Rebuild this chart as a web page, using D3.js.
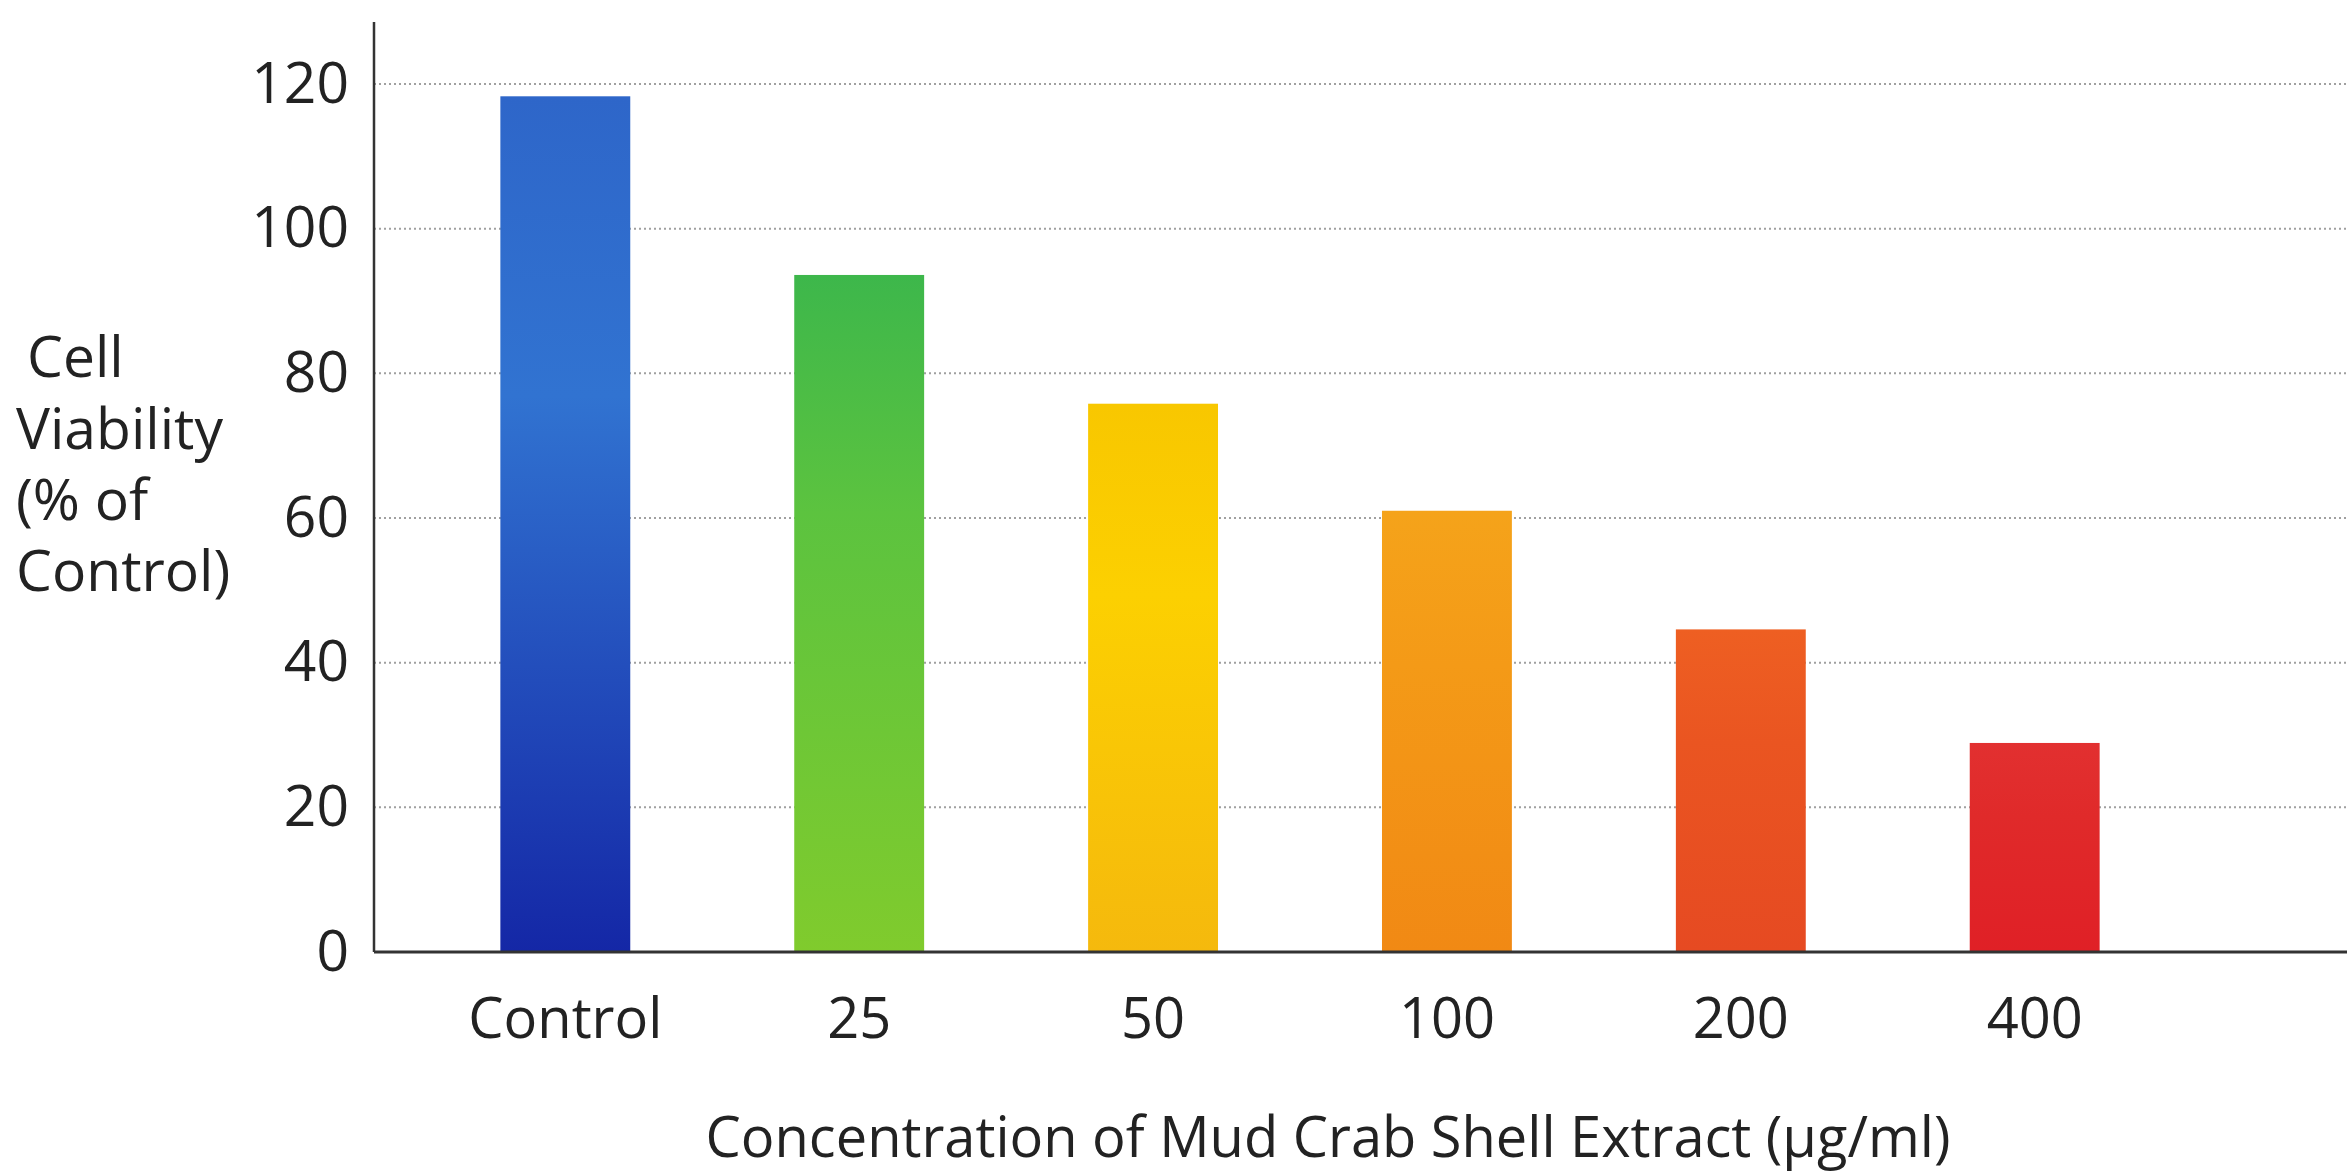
<!DOCTYPE html>
<html>
<head>
<meta charset="utf-8">
<script src="https://cdn.jsdelivr.net/npm/d3@7"></script>
<style>
  html, body { margin: 0; padding: 0; background: #fff; }
  svg { display: block; }
  text { font-family: "Open Sans", "Noto Sans", sans-serif; fill: #222; }
</style>
</head>
<body>
<svg id="chart" width="2347" height="1173"></svg>
<script>
// ---- data ----
const categories = ["Control", "25", "50", "100", "200", "400"];
const viability = [118.3, 93.6, 75.8, 61.0, 44.6, 28.9];
const yTicks = [0, 20, 40, 60, 80, 100, 120];
const yTitleLines = ["Cell", "Viability", "(% of", "Control)"];
const xTitle = "Concentration of Mud Crab Shell Extract (\u00b5g/ml)";
// gradient stops per bar: [top, middle, bottom]
const barColors = [
  ["#2e66c9", "#3173d1", "#1427a6"],
  ["#3db74b", "#5cc33f", "#80cb2d"],
  ["#f8c700", "#fcd001", "#f5b90d"],
  ["#f5a31a", "#f49a17", "#f18914"],
  ["#ee5f22", "#ea5521", "#e64a22"],
  ["#e23030", "#e02a2a", "#e02026"]
];

// ---- layout ----
const W = 2347, H = 1173;
const axisX = 374, axisTop = 22, baseY = 952;

const svg = d3.select("#chart");

const y = d3.scaleLinear().domain([0, 120]).range([baseY, 84]);
const x = d3.scaleBand()
  .domain(categories)
  .range([axisX, 2226])
  .paddingInner(0.558)
  .paddingOuter(0.43);

// gradients
const defs = svg.append("defs");
barColors.forEach((c, i) => {
  const g = defs.append("linearGradient")
    .attr("id", "grad" + i)
    .attr("x1", 0).attr("y1", 0).attr("x2", 0).attr("y2", 1);
  g.append("stop").attr("offset", "0%").attr("stop-color", c[0]);
  g.append("stop").attr("offset", "35%").attr("stop-color", c[1]);
  g.append("stop").attr("offset", "100%").attr("stop-color", c[2]);
});

// gridlines
svg.append("g")
  .selectAll("line")
  .data(yTicks.filter(d => d > 0))
  .join("line")
  .attr("x1", axisX).attr("x2", W)
  .attr("y1", d => y(d)).attr("y2", d => y(d))
  .attr("stroke", "#a0a0a0")
  .attr("stroke-width", 2)
  .attr("stroke-dasharray", "2,3");

// bars
svg.append("g")
  .selectAll("rect")
  .data(categories)
  .join("rect")
  .attr("x", d => x(d))
  .attr("width", x.bandwidth())
  .attr("y", (d, i) => y(viability[i]))
  .attr("height", (d, i) => y(0) - y(viability[i]))
  .attr("fill", (d, i) => `url(#grad${i})`);

// y axis (labels + line)
const yAxis = d3.axisLeft(y).tickValues(yTicks).tickSize(0).tickPadding(25);
const gy = svg.append("g").attr("transform", `translate(${axisX},0)`).call(yAxis);
gy.select(".domain").remove();
gy.selectAll("text")
  .style("font-family", '"Open Sans", sans-serif')
  .style("font-size", "57px")
  .attr("fill", "#222");

svg.append("line")
  .attr("x1", axisX).attr("x2", axisX)
  .attr("y1", axisTop).attr("y2", baseY)
  .attr("stroke", "#333").attr("stroke-width", 2.5);

// x axis
const xAxis = d3.axisBottom(x).tickSize(0).tickPadding(0);
const gx = svg.append("g").attr("transform", `translate(0,${baseY})`).call(xAxis);
gx.select(".domain").remove();
gx.selectAll("text")
  .attr("dy", null)
  .attr("y", 86)
  .style("font-family", '"Open Sans", sans-serif')
  .style("font-size", "56px")
  .attr("fill", "#222");

svg.append("line")
  .attr("x1", axisX).attr("x2", W)
  .attr("y1", baseY).attr("y2", baseY)
  .attr("stroke", "#333").attr("stroke-width", 3);

// y title
const lineX = [27, 16, 16, 16];
const lineY = [377, 449, 520, 591];
svg.append("g")
  .selectAll("text")
  .data(yTitleLines)
  .join("text")
  .attr("x", (d, i) => lineX[i])
  .attr("y", (d, i) => lineY[i])
  .style("font-size", "57px")
  .text(d => d);

// x title
svg.append("text")
  .attr("x", 1328)
  .attr("y", 1157)
  .attr("text-anchor", "middle")
  .style("font-size", "56px")
  .text(xTitle);
</script>
</body>
</html>
